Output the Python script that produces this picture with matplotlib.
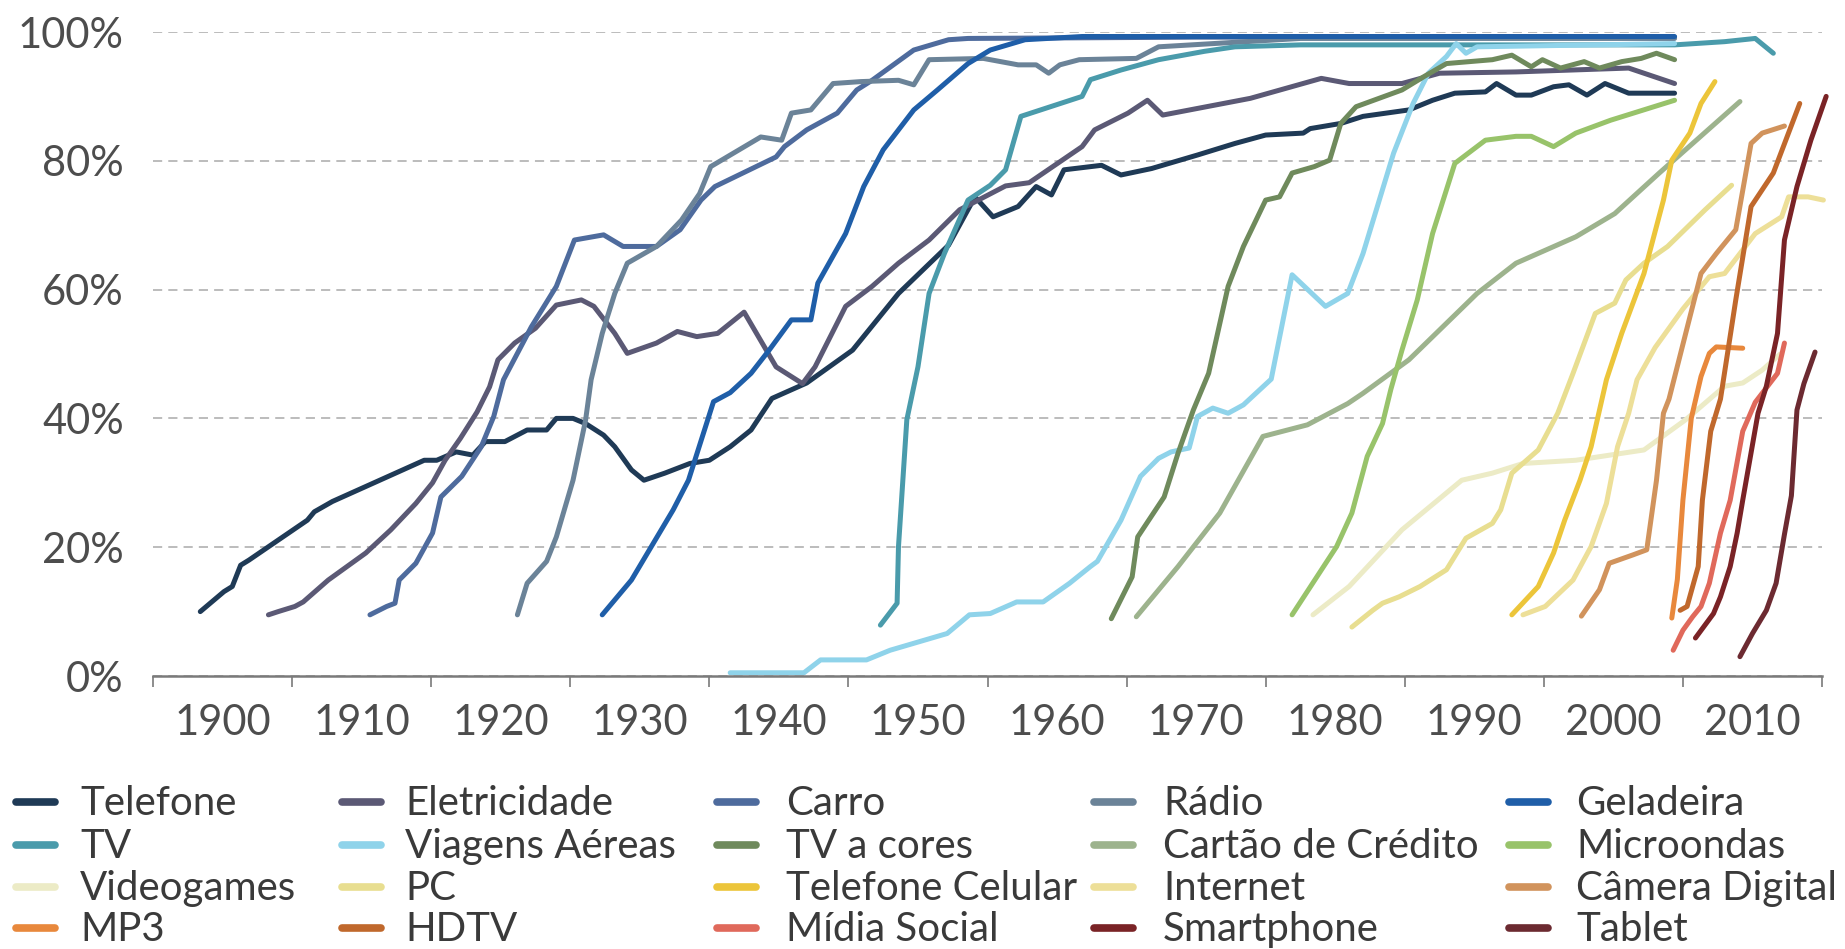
import matplotlib
matplotlib.use("Agg")
import matplotlib.pyplot as plt
from matplotlib.lines import Line2D
from matplotlib.ticker import MultipleLocator, FixedLocator

plt.rcParams['font.family'] = ['Lato', 'DejaVu Sans']

# Adoption curves (year, % of households)
labels = ['Telefone', 'Eletricidade', 'Carro', 'Rádio', 'Geladeira',
          'TV', 'Viagens Aéreas', 'TV a cores', 'Cartão de Crédito', 'Microondas',
          'Videogames', 'PC', 'Telefone Celular', 'Internet', 'Câmera Digital',
          'MP3', 'HDTV', 'Mídia Social', 'Smartphone', 'Tablet']

colors = ['#1f3a56', '#5b5975', '#4e6b9d', '#6b8398', '#1f5ea8',
          '#4a9bab', '#8fd3ea', '#6f8a5c', '#9db38d', '#98c36a',
          '#ecebc6', '#e8de90', '#ecc53a', '#eddf98', '#d1935c',
          '#e8883c', '#c0682c', '#e0695b', '#7a2326', '#6c2a31']

telefone_x = [1898.4, 1900.1, 1900.7, 1901.3, 1901.9, 1906.1, 1906.6, 1907.9, 1914.5, 1915.4,
              1916.8, 1918.0, 1918.9, 1920.3, 1921.9, 1923.3, 1924.0, 1925.2, 1926.1, 1927.4,
              1928.2, 1929.4, 1930.3, 1931.8, 1933.6, 1935.0, 1936.5, 1938.0, 1939.5, 1942.0,
              1945.3, 1948.6, 1952.2, 1954.1, 1955.4, 1957.2, 1958.5, 1959.6, 1960.5, 1963.2,
              1964.6, 1966.8, 1970.1, 1972.8, 1975.0, 1977.7, 1978.2, 1980.4, 1982.0, 1985.3,
              1987.0, 1988.6, 1990.8, 1991.6, 1993.0, 1994.1, 1995.7, 1996.8, 1998.1, 1999.4,
              2001.1, 2004.4]
telefone_y = [10.0, 13.1, 13.9, 17.2, 18.0, 24.2, 25.5, 27.1, 33.5, 33.5,
              34.8, 34.3, 36.4, 36.4, 38.2, 38.2, 40.0, 40.0, 39.2, 37.4,
              35.6, 32.0, 30.4, 31.5, 33.0, 33.5, 35.6, 38.2, 43.1, 45.5,
              50.6, 59.4, 66.9, 74.4, 71.3, 72.9, 76.0, 74.7, 78.6, 79.3,
              77.8, 78.8, 80.9, 82.7, 84.0, 84.3, 85.0, 85.8, 86.9, 87.9,
              89.4, 90.5, 90.7, 92.0, 90.2, 90.2, 91.5, 91.8, 90.2, 92.0,
              90.5, 90.5]

eletricidade_x = [1903.3, 1904.0, 1905.2, 1905.8, 1907.6, 1910.3, 1912.1, 1913.9, 1915.1, 1916.0,
                  1917.1, 1918.3, 1919.2, 1919.8, 1921.0, 1922.5, 1924.0, 1925.8, 1926.7, 1928.2,
                  1929.1, 1931.2, 1932.7, 1934.1, 1935.6, 1937.5, 1939.8, 1941.7, 1942.6, 1944.8,
                  1946.7, 1948.6, 1950.8, 1953.0, 1956.3, 1958.0, 1961.8, 1962.7, 1965.1, 1966.5,
                  1967.6, 1973.9, 1979.0, 1981.0, 1984.8, 1987.5, 1993.0, 2001.1, 2004.4]
eletricidade_y = [9.5, 10.0, 10.8, 11.5, 14.9, 19.1, 22.7, 26.8, 30.0, 33.5,
                  36.9, 41.0, 44.9, 49.1, 51.7, 54.0, 57.6, 58.4, 57.4, 53.2,
                  50.1, 51.7, 53.5, 52.7, 53.2, 56.5, 48.0, 45.4, 48.0, 57.4,
                  60.5, 64.1, 67.7, 72.4, 76.1, 76.6, 82.2, 84.8, 87.4, 89.4,
                  87.1, 89.7, 92.8, 92.0, 92.0, 93.6, 93.8, 94.4, 92.0]

carro_x = [1910.6, 1911.8, 1912.4, 1912.7, 1913.9, 1915.1, 1915.7, 1917.2, 1918.6, 1919.5,
           1920.2, 1922.2, 1924.0, 1925.3, 1927.4, 1928.8, 1931.2, 1932.9, 1934.4, 1935.4,
           1939.8, 1940.4, 1942.0, 1944.2, 1945.6, 1946.7, 1949.7, 1952.2, 1953.6, 1970.0,
           2004.4]
carro_y = [9.5, 10.8, 11.3, 14.9, 17.5, 22.2, 27.8, 31.0, 35.6, 40.3,
           46.0, 54.2, 60.5, 67.7, 68.5, 66.7, 66.7, 69.3, 73.9, 76.0,
           80.6, 82.2, 84.8, 87.4, 91.0, 92.5, 97.2, 98.8, 99.0, 99.2,
           99.2]

radio_x = [1921.2, 1921.9, 1923.3, 1924.0, 1925.2, 1926.1, 1926.5, 1927.3, 1928.2, 1929.1,
           1931.2, 1933.0, 1934.3, 1935.1, 1938.7, 1940.2, 1940.9, 1942.3, 1943.9, 1945.9,
           1948.6, 1949.7, 1950.8, 1954.7, 1957.2, 1958.5, 1959.4, 1960.2, 1961.6, 1965.7,
           1967.3, 1977.5, 2004.4]
radio_y = [9.5, 14.4, 17.8, 21.6, 30.4, 39.7, 46.0, 53.2, 59.4, 64.1,
           66.7, 70.8, 74.9, 79.1, 83.7, 83.2, 87.4, 87.9, 92.0, 92.3,
           92.5, 91.8, 95.7, 95.9, 94.9, 94.9, 93.6, 94.9, 95.7, 95.9,
           97.7, 99.0, 99.0]

geladeira_x = [1927.3, 1929.4, 1932.4, 1933.5, 1935.3, 1936.5, 1938.0, 1939.3, 1940.9, 1942.3,
               1942.8, 1944.8, 1946.1, 1947.5, 1949.7, 1951.4, 1953.6, 1955.2, 1957.7, 1961.8,
               2004.4]
geladeira_y = [9.5, 14.9, 25.8, 30.4, 42.6, 44.0, 47.0, 50.6, 55.3, 55.3,
               61.0, 68.7, 76.0, 81.7, 87.9, 91.0, 95.1, 97.2, 98.8, 99.3,
               99.3]

tv_x = [1947.3, 1948.5, 1948.6, 1949.2, 1950.0, 1950.8, 1951.9, 1953.6, 1955.2, 1956.3,
        1957.4, 1961.8, 1962.4, 1964.6, 1967.3, 1970.6, 1972.8, 1977.5, 2004.4, 2008.0,
        2010.2, 2011.5]
tv_y = [7.9, 11.3, 20.1, 39.8, 48.0, 59.4, 65.6, 73.9, 76.2, 78.6,
        86.9, 90.0, 92.6, 94.1, 95.7, 97.0, 97.7, 98.0, 98.0, 98.5,
        99.0, 96.7]

viagens_x = [1936.5, 1941.8, 1943.0, 1946.3, 1948.0, 1952.1, 1953.7, 1955.2, 1957.1, 1959.0,
             1960.9, 1962.4, 1962.9, 1964.6, 1966.0, 1967.3, 1968.2, 1969.5, 1970.1, 1971.2,
             1972.3, 1973.4, 1975.4, 1976.9, 1979.3, 1980.9, 1982.0, 1984.2, 1985.6, 1986.7,
             1988.0, 1988.7, 1989.4, 1990.2, 2004.4]
viagens_y = [0.5, 0.5, 2.5, 2.5, 4.0, 6.6, 9.5, 9.7, 11.5, 11.5,
             14.4, 17.0, 17.8, 24.2, 31.0, 33.8, 34.8, 35.4, 40.3, 41.6,
             40.8, 42.1, 46.1, 62.3, 57.4, 59.4, 65.6, 81.2, 88.9, 93.6,
             96.2, 98.2, 96.7, 97.7, 98.2]

tvcores_x = [1963.9, 1965.4, 1965.8, 1967.7, 1968.7, 1969.8, 1970.9, 1972.3, 1973.4, 1975.0,
             1976.0, 1976.9, 1978.5, 1979.6, 1980.4, 1981.5, 1984.8, 1986.4, 1988.0, 1991.3,
             1992.7, 1994.1, 1994.9, 1996.2, 1997.9, 1999.0, 2000.6, 2002.0, 2003.1, 2004.4]
tvcores_y = [8.9, 15.4, 21.6, 27.8, 34.6, 41.3, 47.0, 60.5, 66.7, 73.9,
             74.4, 78.1, 79.1, 80.1, 85.8, 88.4, 91.0, 93.1, 95.1, 95.7,
             96.4, 94.6, 95.7, 94.4, 95.4, 94.4, 95.4, 95.9, 96.7, 95.7]

cartao_x = [1965.7, 1968.7, 1971.7, 1974.8, 1978.0, 1980.9, 1982.0, 1985.3, 1990.2, 1993.0,
            1997.3, 2000.1, 2003.3, 2009.1]
cartao_y = [9.2, 17.0, 25.3, 37.2, 39.0, 42.3, 43.9, 49.1, 59.4, 64.1,
            68.2, 71.8, 78.1, 89.2]

micro_x = [1976.9, 1980.1, 1981.2, 1982.3, 1983.4, 1984.0, 1984.8, 1985.9, 1987.0, 1988.6,
           1990.8, 1993.0, 1994.1, 1995.7, 1997.3, 1999.8, 2004.4]
micro_y = [9.5, 20.1, 25.3, 34.1, 39.2, 44.5, 50.6, 58.4, 68.7, 79.6,
           83.2, 83.8, 83.8, 82.2, 84.3, 86.3, 89.4]

videogames_x = [1978.4, 1981.0, 1984.8, 1989.1, 1991.3, 1993.5, 1997.3, 2002.2, 2005.2, 2008.0,
                2009.3, 2010.7, 2012.0]
videogames_y = [9.5, 13.9, 22.7, 30.4, 31.5, 33.0, 33.5, 35.1, 39.8, 45.0,
                45.5, 47.5, 50.0]

pc_x = [1981.2, 1982.7, 1983.4, 1984.6, 1986.1, 1988.0, 1989.4, 1991.3, 1991.9, 1992.7,
        1994.6, 1996.0, 1997.1, 1998.7, 2000.1, 2000.9, 2002.2, 2003.9, 2006.6, 2008.5]
pc_y = [7.6, 10.2, 11.3, 12.3, 13.9, 16.5, 21.4, 23.7, 25.8, 31.5,
        35.1, 40.8, 47.0, 56.3, 57.9, 61.5, 64.1, 66.7, 72.4, 76.2]

celular_x = [1992.7, 1994.6, 1995.7, 1996.5, 1997.6, 1998.4, 1999.5, 2000.6, 2002.2, 2003.6,
             2004.2, 2005.5, 2006.3, 2007.3]
celular_y = [9.5, 13.9, 19.1, 24.2, 30.4, 35.6, 46.0, 53.2, 62.5, 73.9,
             80.1, 84.3, 88.9, 92.3]

internet_x = [1993.5, 1995.1, 1997.1, 1998.4, 1999.5, 2000.3, 2001.1, 2001.7, 2003.0, 2005.0,
              2006.9, 2008.0, 2010.2, 2012.1, 2012.6, 2014.0, 2015.1]
internet_y = [9.5, 10.8, 14.9, 20.1, 26.8, 35.6, 40.8, 46.0, 51.0, 57.0,
              62.0, 62.5, 68.7, 71.3, 74.4, 74.4, 73.9]

camera_x = [1997.7, 1999.0, 1999.7, 2001.4, 2002.4, 2003.1, 2003.6, 2004.0, 2005.2, 2006.3,
            2007.4, 2008.8, 2009.9, 2010.7, 2012.3]
camera_y = [9.3, 13.4, 17.5, 18.8, 19.6, 30.4, 40.8, 43.0, 53.2, 62.5,
            65.6, 69.3, 82.7, 84.3, 85.4]

mp3_x = [2004.2, 2004.6, 2005.0, 2005.6, 2006.3, 2006.9, 2007.4, 2009.3]
mp3_y = [9.0, 15.0, 27.3, 40.0, 46.5, 50.1, 51.1, 50.9]

hdtv_x = [2004.8, 2005.3, 2006.1, 2006.4, 2007.0, 2007.7, 2008.8, 2009.9, 2011.5, 2013.4]
hdtv_y = [10.2, 10.8, 17.0, 27.3, 38.0, 43.0, 58.4, 72.9, 78.1, 88.9]

midia_x = [2004.3, 2005.0, 2005.7, 2006.3, 2006.9, 2007.7, 2008.4, 2009.3, 2010.2, 2011.8,
           2012.3]
midia_y = [4.0, 7.1, 9.2, 10.8, 14.4, 22.2, 27.3, 38.0, 42.5, 47.0,
           51.7]

smartphone_x = [2005.9, 2007.2, 2007.7, 2008.4, 2008.9, 2009.3, 2010.4, 2011.0, 2011.8, 2012.3,
                2013.2, 2014.2, 2015.3]
smartphone_y = [5.9, 9.7, 12.3, 17.0, 22.2, 27.3, 40.8, 45.0, 53.2, 67.7,
                76.0, 83.2, 90.0]

tablet_x = [2009.1, 2010.0, 2011.0, 2011.7, 2012.3, 2012.8, 2013.2, 2013.7, 2014.5]
tablet_y = [3.0, 6.6, 10.2, 14.4, 22.0, 28.0, 41.3, 45.4, 50.3]

series_x = [telefone_x, eletricidade_x, carro_x, radio_x, geladeira_x,
            tv_x, viagens_x, tvcores_x, cartao_x, micro_x,
            videogames_x, pc_x, celular_x, internet_x, camera_x,
            mp3_x, hdtv_x, midia_x, smartphone_x, tablet_x]
series_y = [telefone_y, eletricidade_y, carro_y, radio_y, geladeira_y,
            tv_y, viagens_y, tvcores_y, cartao_y, micro_y,
            videogames_y, pc_y, celular_y, internet_y, camera_y,
            mp3_y, hdtv_y, midia_y, smartphone_y, tablet_y]

year_labels = list(range(1900, 2011, 10))
pct_ticks = [0, 20, 40, 60, 80, 100]

W, H = 1845, 949
fig = plt.figure(figsize=(W / 100, H / 100), dpi=100)
ax = fig.add_axes([153 / W, 1 - 676 / H, (1822 - 153) / W, (676 - 32) / H])

for xs, ys, c in zip(series_x, series_y, colors):
    ax.plot(xs, ys, color=c, lw=3.6, solid_joinstyle='round', solid_capstyle='round', clip_on=False)

ax.set_xlim(1895, 2015)
ax.set_ylim(0, 100)

# axes styling
for s in ['top', 'right', 'left']:
    ax.spines[s].set_visible(False)
ax.spines['bottom'].set_color('#7a7a7a')
ax.spines['bottom'].set_linewidth(1.8)

ax.set_yticks(pct_ticks)
ax.set_yticklabels([f'{p}%' for p in pct_ticks])
ax.tick_params(axis='y', length=0, pad=21, labelsize=30, labelcolor='#4d4d4d')
ax.yaxis.grid(True, color='#a9a9a9', lw=1.1, dashes=(6, 4))
ax.set_axisbelow(True)

ax.xaxis.set_major_locator(FixedLocator(year_labels))
ax.xaxis.set_minor_locator(MultipleLocator(10, offset=5))
ax.set_xticklabels([str(y) for y in year_labels])
ax.tick_params(axis='x', which='major', length=0, pad=20, labelsize=30, labelcolor='#4d4d4d')
ax.tick_params(axis='x', which='minor', length=8, width=1.2, color='#7a7a7a', direction='out')

# legend, laid out row by row like the original
col_handle_x = [12, 338, 713, 1090, 1505]
col_text_x = [80, 405, 786, 1163, 1576]
row_base_y = [815, 858, 900, 941]
for i, (lab, c) in enumerate(zip(labels, colors)):
    r, k = divmod(i, 5)
    hx = col_handle_x[k]
    hy = 1 - (row_base_y[r] - 13) / H
    fig.add_artist(Line2D([(hx + 4) / W, (hx + 43) / W], [hy, hy], transform=fig.transFigure,
                          color=c, lw=5.5, solid_capstyle='round'))
    fig.text(col_text_x[k] / W, 1 - row_base_y[r] / H, lab, fontsize=29,
             color='#3a3a3a', ha='left', va='baseline')

fig.savefig('out.png', dpi=100, facecolor='white')
